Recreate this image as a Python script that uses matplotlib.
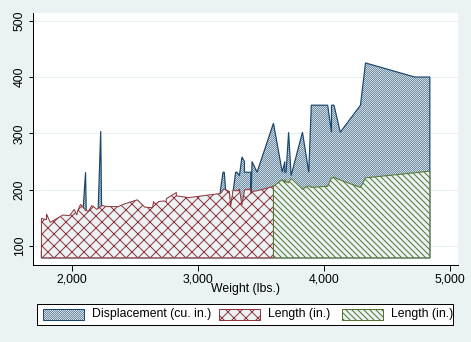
import numpy as np
import matplotlib
matplotlib.use("Agg")
import matplotlib.pyplot as plt
from matplotlib.patches import Rectangle
from matplotlib.ticker import FuncFormatter

plt.rcParams["font.family"] = ["Liberation Sans", "DejaVu Sans"]

# 1978 automobile data: curb weight (lbs.), length (in.), displacement (cu. in.)
weight = [2930, 3350, 2640, 3250, 4080, 3670, 2230, 3280, 3880, 3400,
          4330, 3900, 4290, 2110, 3690, 3180, 3220, 2750, 3430, 2120,
          3600, 3600, 3740, 1800, 2650, 4840, 4720, 3830, 2580, 4060,
          3720, 3370, 4130, 2830, 4060, 3310, 3300, 3690, 3370, 2730,
          4030, 3260, 1800, 2200, 2520, 3330, 3700, 3470, 3210, 3200,
          3420, 2690, 2830, 2070, 2650, 2370, 2020, 2280, 2750, 2130,
          2240, 1760, 1980, 3420, 1830, 2050, 2410, 2200, 2670, 2160,
          2040, 1930, 1990, 3170]
length = [186, 173, 168, 196, 222, 218, 170, 200, 207, 200,
          221, 204, 204, 163, 212, 193, 200, 179, 197, 163,
          206, 206, 220, 147, 179, 233, 230, 201, 169, 221,
          212, 198, 217, 195, 220, 198, 198, 218, 200, 180,
          206, 170, 157, 165, 182, 201, 214, 198, 201, 199,
          203, 179, 189, 174, 177, 170, 165, 170, 184, 161,
          172, 149, 154, 192, 142, 164, 174, 165, 175, 172,
          155, 155, 156, 193]
displacement = [121, 258, 121, 196, 350, 231, 304, 196, 231, 231,
                425, 350, 350, 231, 250, 200, 200, 151, 250, 98,
                318, 318, 225, 98, 140, 400, 400, 302, 140, 302,
                302, 250, 302, 140, 350, 231, 231, 231, 231, 151,
                350, 156, 86, 105, 119, 225, 231, 231, 231, 231,
                231, 151, 131, 97, 121, 119, 85, 119, 146, 105,
                107, 91, 86, 163, 79, 97, 134, 97, 134, 97,
                90, 89, 97, 163]
split_weight = 3600

x_ticks = [2000, 3000, 4000, 5000]
y_ticks = [100, 200, 300, 400, 500]
legend_labels = ["Displacement (cu. in.)", "Length (in.)", "Length (in.)"]

NAVY = "#1A476F"
MAROON = "#90353B"
GREEN = "#55752F"
BG = "#EAF2F3"

HATCH_DISP = "/" * 12
HATCH_LEN1 = "xx"
HATCH_LEN2 = "\\" * 4

W, H, DPI = 471, 342, 72
fig = plt.figure(figsize=(W / DPI, H / DPI), dpi=DPI)
fig.patch.set_facecolor(BG)


def fx(px):
    return px / W


def fy(py):
    return 1 - py / H


ax_l, ax_r, ax_t, ax_b = 33.3, 457.7, 12.7, 265.0
ax = fig.add_axes([fx(ax_l), fy(ax_b), fx(ax_r - ax_l), (ax_b - ax_t) / H])
ax.set_facecolor("white")

order = np.argsort(np.asarray(weight), kind="stable")
w = np.asarray(weight, dtype=float)[order]
ln = np.asarray(length, dtype=float)[order]
dp = np.asarray(displacement, dtype=float)[order]
base = min(dp.min(), ln.min())


def area(xs, ys, color, hatch, lw=1.0, hatch_lw=1.0):
    px = np.concatenate([[xs[0]], xs, [xs[-1]]])
    py = np.concatenate([[base], ys, [base]])
    poly, = ax.fill(px, py, facecolor=BG, edgecolor=color, hatch=hatch,
                    linewidth=lw, zorder=2)
    if hasattr(poly, "set_hatch_linewidth"):
        poly.set_hatch_linewidth(hatch_lw)
    return poly


area(w, dp, NAVY, HATCH_DISP, lw=1.2, hatch_lw=0.5)
lo = w <= split_weight
hi = w >= split_weight
area(w[lo], ln[lo], MAROON, HATCH_LEN1)
area(w[hi], ln[hi], GREEN, HATCH_LEN2)

ax.set_xlim(1695.5, 5061)
ax.set_ylim(66.3, 514.2)
ax.set_xticks(x_ticks)
ax.set_yticks(y_ticks)
ax.xaxis.set_major_formatter(FuncFormatter(lambda v, p: f"{int(v):,}"))
ax.grid(axis="y", color=BG, linewidth=1.2, zorder=0)
ax.set_axisbelow(True)

for s in ("top", "right"):
    ax.spines[s].set_visible(False)
for s in ("left", "bottom"):
    ax.spines[s].set_color("black")
    ax.spines[s].set_linewidth(1.0)

ax.tick_params(axis="x", length=5.5, width=1, pad=3.5, labelsize=12.2, colors="black")
ax.tick_params(axis="y", length=4.5, width=1, pad=3.0, labelsize=12.2, colors="black")
for t in ax.get_yticklabels():
    t.set_rotation(90)
    t.set_va("center")

ax.set_xlabel("Weight (lbs.)", fontsize=12.2, color="black", va="top")
ax.xaxis.set_label_coords(0.5, -0.072)

# legend box
fig.patches.append(Rectangle((fx(37.3), fy(325.3)), fx(453.3 - 37.3), (325.3 - 304.3) / H,
                             transform=fig.transFigure, facecolor="white",
                             edgecolor="black", linewidth=1.0, zorder=5))
entries = [(43.3, 91.7, NAVY, HATCH_DISP, 0.5),
           (219.0, 268.3, MAROON, HATCH_LEN1, 1.0),
           (342.3, 391.0, GREEN, HATCH_LEN2, 1.0)]
for (hx, tx, col, hat, hlw), lab in zip(entries, legend_labels):
    r = Rectangle((fx(hx), fy(320.0)), fx(41.0), 10.7 / H, transform=fig.transFigure,
                  facecolor=BG, edgecolor=col, hatch=hat, linewidth=1.0, zorder=6)
    if hasattr(r, "set_hatch_linewidth"):
        r.set_hatch_linewidth(hlw)
    fig.patches.append(r)
    fig.text(fx(tx), fy(314.3), lab, fontsize=12.2, color="black",
             ha="left", va="center", zorder=7)

fig.savefig("out.png", dpi=DPI, facecolor=BG)
